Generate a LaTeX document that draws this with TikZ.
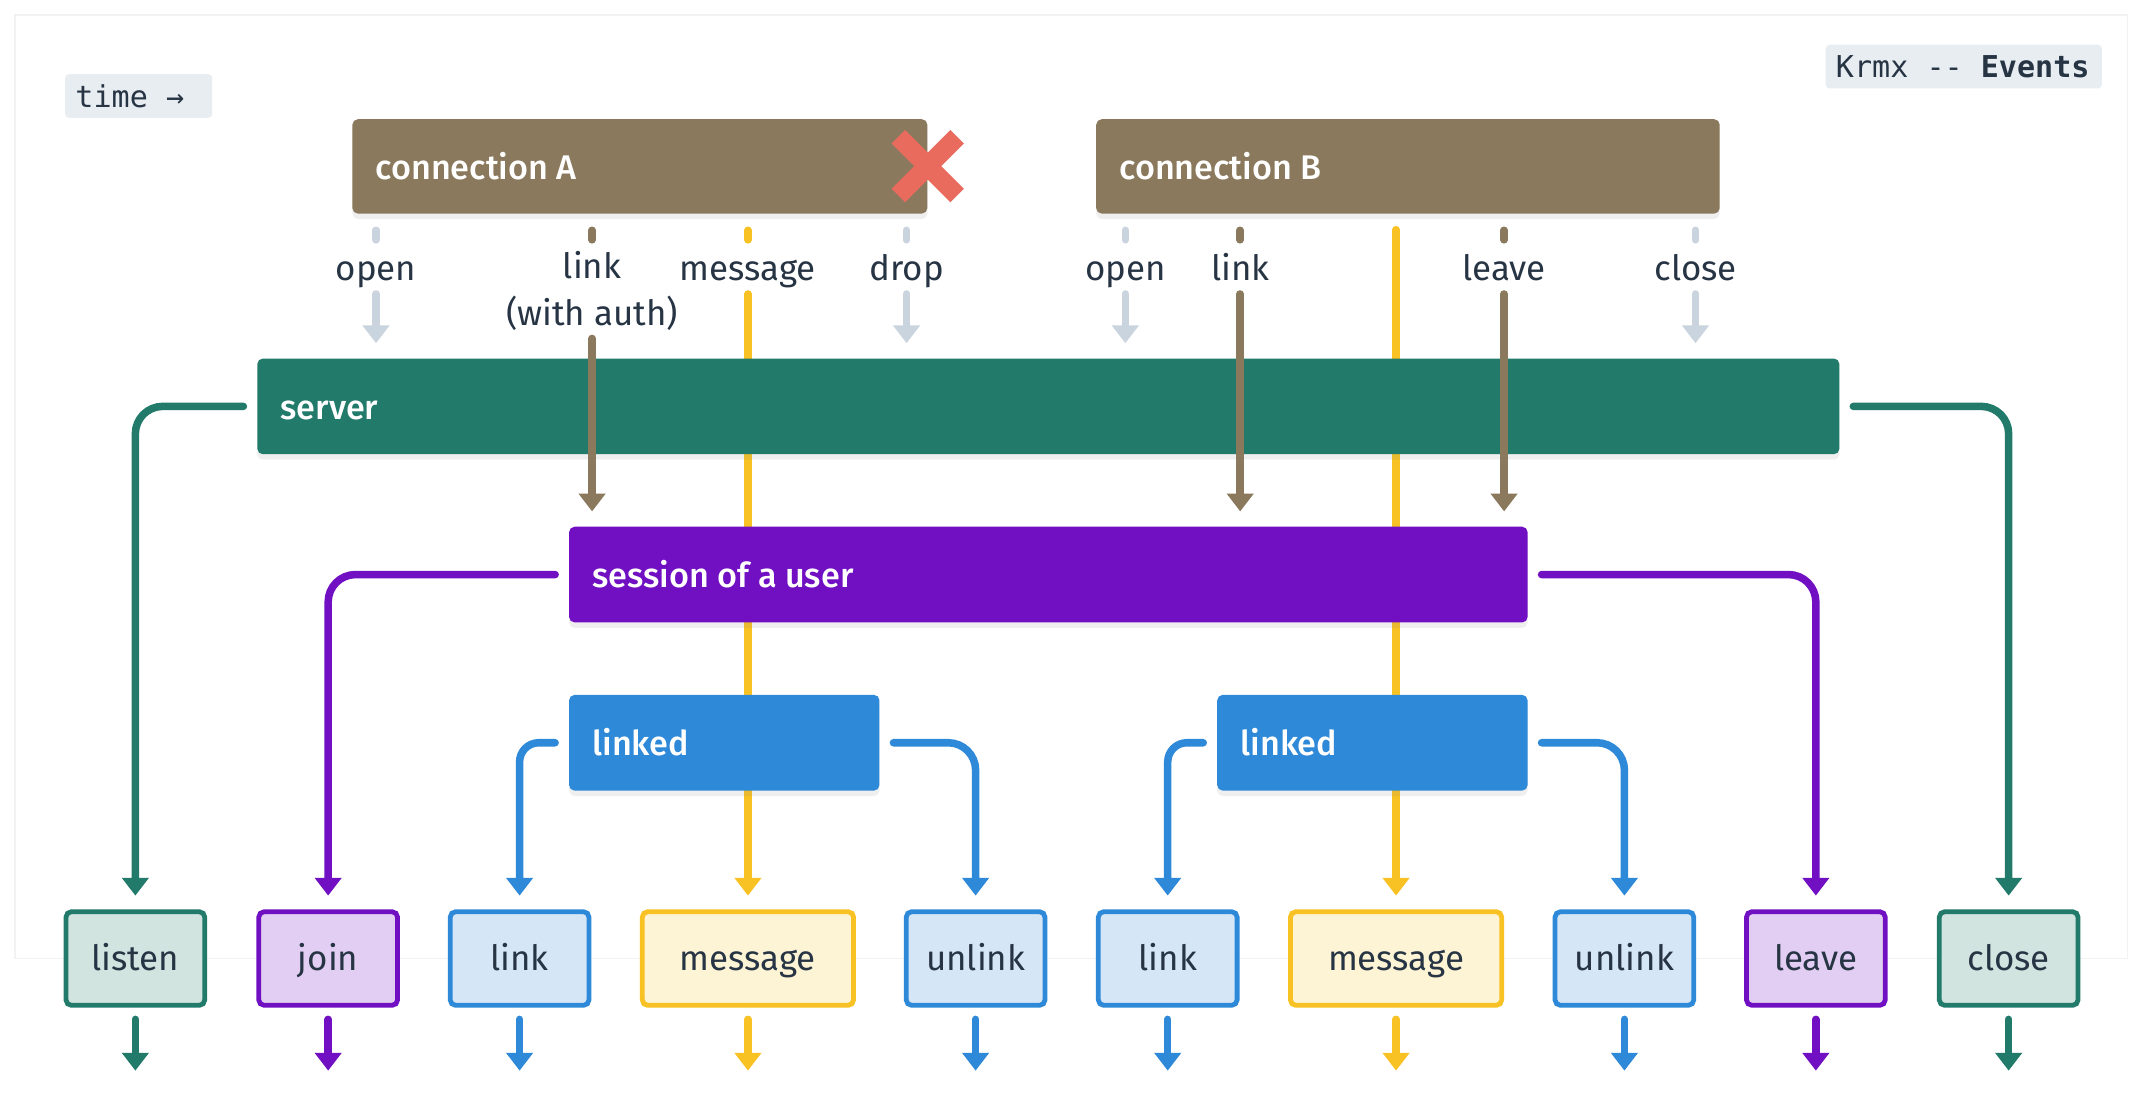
\documentclass[tikz,border=0pt]{standalone}
\usepackage{fontspec}
\setmainfont{Fira Sans}
\newfontfamily\medfont{Fira Sans Medium}
\setmonofont{DejaVu Sans Mono}
\usetikzlibrary{arrows.meta,shadows,calc}
\definecolor{cbrown}{HTML}{8A795D}
\definecolor{cred}{HTML}{E86B5E}
\definecolor{cteal}{HTML}{217A6A}
\definecolor{cpurple}{HTML}{7010C2}
\definecolor{cblue}{HTML}{2E89D8}
\definecolor{cyellow}{HTML}{F8C124}
\definecolor{cgray}{HTML}{C9D4DE}
\definecolor{ctext}{HTML}{263444}
\definecolor{lteal}{HTML}{D1E4E0}
\definecolor{lpurple}{HTML}{E2CEF3}
\definecolor{lblue}{HTML}{D5E7F7}
\definecolor{lyellow}{HTML}{FDF3D5}
\definecolor{tagbg}{HTML}{E8EDF1}
\newcommand\mainfs{\fontsize{25.5}{30}\selectfont}
\newcommand\whitefs{\medfont\fontsize{25}{30}\selectfont}
\tikzset{
 conn/.style={line width=5.5pt, line cap=round, -{Triangle[width=19pt,length=13pt]}},
 bar/.style={rectangle, rounded corners=4pt, minimum height=69pt, anchor=north west, inner sep=0pt,
   drop shadow={shadow xshift=0pt, shadow yshift=-4pt, opacity=0.12}},
 wtxt/.style={anchor=west, text=white, inner sep=0pt, font=\whitefs, text height=24pt, text depth=5pt},
 evt/.style={text=ctext, inner sep=0pt, font=\mainfs, anchor=base},
 outbox/.style={rectangle, rounded corners=4pt, line width=3.5pt, minimum width=101.5pt,
   minimum height=68.5pt, text=ctext, font=\mainfs, inner sep=0pt, text height=23pt, text depth=5pt},
 tick/.style={line width=5.5pt, line cap=round},
 tagbox/.style={rectangle, fill=tagbg, rounded corners=3pt, anchor=north west, minimum height=32pt, inner sep=0pt},
 tagtxt/.style={anchor=west, inner sep=0pt, text=ctext, font=\ttfamily\fontsize{22}{26}\selectfont},
}
\begin{document}
\begin{tikzpicture}[x=1pt,y=-1pt]
\useasboundingbox (0,0) rectangle (1568,800);
\fill[white] (0,0) rectangle (1568,800);
\draw[black!5, line width=1pt, fill=white] (11,11) rectangle (1556,701);

% bottom boxes
\node[outbox, draw=cteal, fill=lteal] (bListen) at (99,701) {listen};
\node[outbox, draw=cpurple, fill=lpurple] (bJoin) at (240,701) {join};
\node[outbox, draw=cblue, fill=lblue] (bLinkA) at (380,701) {link};
\node[outbox, draw=cyellow, fill=lyellow, minimum width=154.5pt] (bMsgA) at (547,701) {message};
\node[outbox, draw=cblue, fill=lblue] (bUnlinkA) at (713.5,701) {unlink};
\node[outbox, draw=cblue, fill=lblue] (bLinkB) at (854,701) {link};
\node[outbox, draw=cyellow, fill=lyellow, minimum width=154.5pt] (bMsgB) at (1021,701) {message};
\node[outbox, draw=cblue, fill=lblue] (bUnlinkB) at (1188,701) {unlink};
\node[outbox, draw=cpurple, fill=lpurple] (bLeave) at (1328,701) {leave};
\node[outbox, draw=cteal, fill=lteal] (bClose) at (1469,701) {close};

% event labels
\node[evt] (eOpenA) at (275,205.5) {open};
\node[evt] (eLinkA) at (433,204) {link};
\node[evt] (eAuth) at (433,238) {(with auth)};
\node[evt] (eMsgA) at (547,205.5) {message};
\node[evt] (eDrop) at (663,205.5) {drop};
\node[evt] (eOpenB) at (823,205.5) {open};
\node[evt] (eLinkB) at (907,205.5) {link};
\node[evt] (eLeave) at (1100,205.5) {leave};
\node[evt] (eClose) at (1240,205.5) {close};
\coordinate (mB) at (1021,168);

% yellow message lines (behind the bars)
\draw[conn, cyellow, shorten >=10pt] ([yshift=-9.5pt]eMsgA.base) -- (eMsgA |- bMsgA.north);
\draw[conn, cyellow, shorten >=10pt] (mB) -- (mB |- bMsgB.north);

% bars
\node[bar, fill=cbrown, minimum width=420.5pt] (connA) at (257.5,87) {};
\node[bar, fill=cbrown, minimum width=456pt] (connB) at (801.5,87) {};
\node[bar, fill=cteal, minimum width=1157pt, minimum height=70pt] (srv) at (188,262) {};
\node[bar, fill=cpurple, minimum width=701pt, minimum height=70pt] (sess) at (416,385) {};
\node[bar, fill=cblue, minimum width=227pt, minimum height=70pt] (lnkA) at (416,508) {};
\node[bar, fill=cblue, minimum width=227pt, minimum height=70pt] (lnkB) at (890,508) {};

\node[wtxt] (tConnA) at ([xshift=17pt]connA.west) {connection A};
\node[wtxt] (tConnB) at ([xshift=17pt]connB.west) {connection B};
\node[wtxt] (tSrv) at ([xshift=17pt]srv.west) {server};
\node[wtxt] (tSess) at ([xshift=17pt]sess.west) {session of a user};
\node[wtxt] (tLnkA) at ([xshift=17pt]lnkA.west) {linked};
\node[wtxt] (tLnkB) at ([xshift=17pt]lnkB.west) {linked};

% ticks
\draw[tick, cgray] ($(eOpenA |- connA.south)+(0,12)$) -- ++(0,7);
\draw[tick, cbrown] ($(eLinkA |- connA.south)+(0,12)$) -- ++(0,7);
\draw[tick, cyellow] ($(eMsgA |- connA.south)+(0,12)$) -- ++(0,7);
\draw[tick, cgray] ($(eDrop |- connA.south)+(0,12)$) -- ++(0,7);
\draw[tick, cgray] ($(eOpenB |- connB.south)+(0,12)$) -- ++(0,7);
\draw[tick, cbrown] ($(eLinkB |- connB.south)+(0,12)$) -- ++(0,7);
\draw[tick, cbrown] ($(eLeave |- connB.south)+(0,12)$) -- ++(0,7);
\draw[tick, cgray] ($(eClose |- connB.south)+(0,12)$) -- ++(0,7);

% gray arrows into server
\draw[conn, cgray, shorten >=11pt] ([yshift=-9.5pt]eOpenA.base) -- (eOpenA |- srv.north);
\draw[conn, cgray, shorten >=11pt] ([yshift=-9.5pt]eDrop.base) -- (eDrop |- srv.north);
\draw[conn, cgray, shorten >=11pt] ([yshift=-9.5pt]eOpenB.base) -- (eOpenB |- srv.north);
\draw[conn, cgray, shorten >=11pt] ([yshift=-9.5pt]eClose.base) -- (eClose |- srv.north);

% brown arrows into session
\draw[conn, cbrown, shorten >=11pt] ([yshift=-9.5pt]eAuth.base) -- (eAuth |- sess.north);
\draw[conn, cbrown, shorten >=11pt] ([yshift=-9.5pt]eLinkB.base) -- (eLinkB |- sess.north);
\draw[conn, cbrown, shorten >=11pt] ([yshift=-9.5pt]eLeave.base) -- (eLeave |- sess.north);

% connectors to outputs
\draw[conn, cteal, rounded corners=20pt, shorten >=10pt] ([xshift=-10pt]srv.west) -| (bListen.north);
\draw[conn, cteal, rounded corners=20pt, shorten >=10pt] ([xshift=10pt]srv.east) -| (bClose.north);
\draw[conn, cpurple, rounded corners=20pt, shorten >=10pt] ([xshift=-10pt]sess.west) -| (bJoin.north);
\draw[conn, cpurple, rounded corners=20pt, shorten >=10pt] ([xshift=10pt]sess.east) -| (bLeave.north);
\draw[conn, cblue, rounded corners=14pt, shorten >=10pt] ([xshift=-10pt]lnkA.west) -| (bLinkA.north);
\draw[conn, cblue, rounded corners=20pt, shorten >=10pt] ([xshift=10pt]lnkA.east) -| (bUnlinkA.north);
\draw[conn, cblue, rounded corners=14pt, shorten >=10pt] ([xshift=-10pt]lnkB.west) -| (bLinkB.north);
\draw[conn, cblue, rounded corners=20pt, shorten >=10pt] ([xshift=10pt]lnkB.east) -| (bUnlinkB.north);

% outgoing arrows
\draw[conn, cteal] ([yshift=-8.5pt]bListen.south) -- ([yshift=-46pt]bListen.south);
\draw[conn, cpurple] ([yshift=-8.5pt]bJoin.south) -- ([yshift=-46pt]bJoin.south);
\draw[conn, cblue] ([yshift=-8.5pt]bLinkA.south) -- ([yshift=-46pt]bLinkA.south);
\draw[conn, cyellow] ([yshift=-8.5pt]bMsgA.south) -- ([yshift=-46pt]bMsgA.south);
\draw[conn, cblue] ([yshift=-8.5pt]bUnlinkA.south) -- ([yshift=-46pt]bUnlinkA.south);
\draw[conn, cblue] ([yshift=-8.5pt]bLinkB.south) -- ([yshift=-46pt]bLinkB.south);
\draw[conn, cyellow] ([yshift=-8.5pt]bMsgB.south) -- ([yshift=-46pt]bMsgB.south);
\draw[conn, cblue] ([yshift=-8.5pt]bUnlinkB.south) -- ([yshift=-46pt]bUnlinkB.south);
\draw[conn, cpurple] ([yshift=-8.5pt]bLeave.south) -- ([yshift=-46pt]bLeave.south);
\draw[conn, cteal] ([yshift=-8.5pt]bClose.south) -- ([yshift=-46pt]bClose.south);

% drop cross
\draw[cred, line width=14pt] (657,100) -- (700,143) (700,100) -- (657,143);

% tags
\node[tagbox, minimum width=107.5pt] (timeTag) at (47.5,54) {};
\node[tagtxt] (timeTxt) at ([xshift=7.5pt]timeTag.west) {time →};
\node[tagbox, minimum width=202pt] (krmxTag) at (1335,32.5) {};
\node[tagtxt] (krmxTxt) at ([xshift=7.5pt]krmxTag.west) {Krmx {-}{-} \textbf{Events}};
\end{tikzpicture}
\end{document}
